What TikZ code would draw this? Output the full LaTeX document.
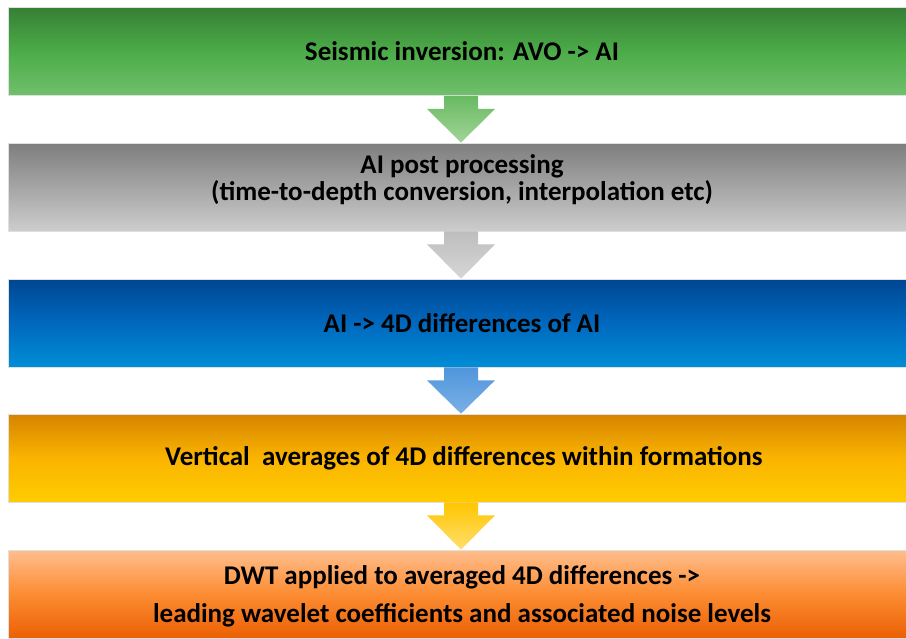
\documentclass[tikz,border=0pt]{standalone}
\usepackage{fontspec}
\setmainfont{Carlito}
\usetikzlibrary{calc}
\definecolor{gA}{RGB}{54,128,54}
\definecolor{gB}{RGB}{76,172,72}
\definecolor{gC}{RGB}{112,192,108}
\definecolor{yA}{RGB}{126,126,126}
\definecolor{yB}{RGB}{165,165,165}
\definecolor{yC}{RGB}{205,205,205}
\definecolor{bA}{RGB}{0,70,146}
\definecolor{bB}{RGB}{0,104,190}
\definecolor{bC}{RGB}{0,142,214}
\definecolor{oA}{RGB}{214,132,0}
\definecolor{oB}{RGB}{250,180,0}
\definecolor{oC}{RGB}{255,204,0}
\definecolor{pA}{RGB}{255,190,142}
\definecolor{pB}{RGB}{252,140,50}
\definecolor{pC}{RGB}{236,96,4}
\definecolor{agA}{RGB}{104,186,98}
\definecolor{agB}{RGB}{162,212,152}
\definecolor{ayA}{RGB}{190,190,190}
\definecolor{ayB}{RGB}{214,214,214}
\definecolor{abA}{RGB}{80,150,220}
\definecolor{abB}{RGB}{122,176,230}
\definecolor{aoA}{RGB}{255,198,0}
\definecolor{aoB}{RGB}{255,222,110}
\tikzset{
  band/.style={rectangle, minimum width=906pt, minimum height=88pt, inner sep=0pt, draw=white!88!black, line width=0.6pt},
  lbl/.style={font=\bfseries\fontsize{27}{31}\selectfont, inner sep=0pt, align=center}
}
\newcommand{\blockarrow}[4]{%
  \shade[top color=#3, bottom color=#4]
    ($(#1.south)+(-17,0)$) -- ($(#1.south)+(-17,13)$) -- ($(#1.south)+(-34,13)$)
    -- (#2.north) -- ($(#1.south)+(34,13)$) -- ($(#1.south)+(17,13)$)
    -- ($(#1.south)+(17,0)$) -- cycle;}
\begin{document}
\begin{tikzpicture}[x=1pt,y=-1pt]
\useasboundingbox (0,0) rectangle (906,638);
\clip (0,0) rectangle (906,638);
\fill[white] (0,0) rectangle (906,638);
\node[band, top color=gA, bottom color=gC, middle color=gB] (b1) at (461,51.5) {};
\node[band, top color=yA, bottom color=yC, middle color=yB] (b2) at (461,187) {};
\node[band, top color=bA, bottom color=bC, middle color=bB] (b3) at (461,323) {};
\node[band, top color=oA, bottom color=oC, middle color=oB] (b4) at (461,458) {};
\node[band, top color=pA, bottom color=pC, middle color=pB] (b5) at (461,594) {};
\blockarrow{b1}{b2}{agA}{agB}
\blockarrow{b2}{b3}{ayA}{ayB}
\blockarrow{b3}{b4}{abA}{abB}
\blockarrow{b4}{b5}{aoA}{aoB}
\node[lbl] (t1) at (462,51) {Seismic inversion: AVO -> AI};
\node[lbl] (t2a) at (462,166) {AI post processing};
\node[lbl] (t2b) at (462,193) {(time-to-depth conversion, interpolation etc)};
\node[lbl] (t3) at (462,323) {AI -> 4D differences of AI};
\node[lbl] (t4) at (464,458) {Vertical\ \ averages of 4D differences within formations};
\node[lbl] (t5a) at (462,577) {DWT applied to averaged 4D differences ->};
\node[lbl] (t5b) at (462,615) {leading wavelet coefficients and associated noise levels};
\end{tikzpicture}
\end{document}
